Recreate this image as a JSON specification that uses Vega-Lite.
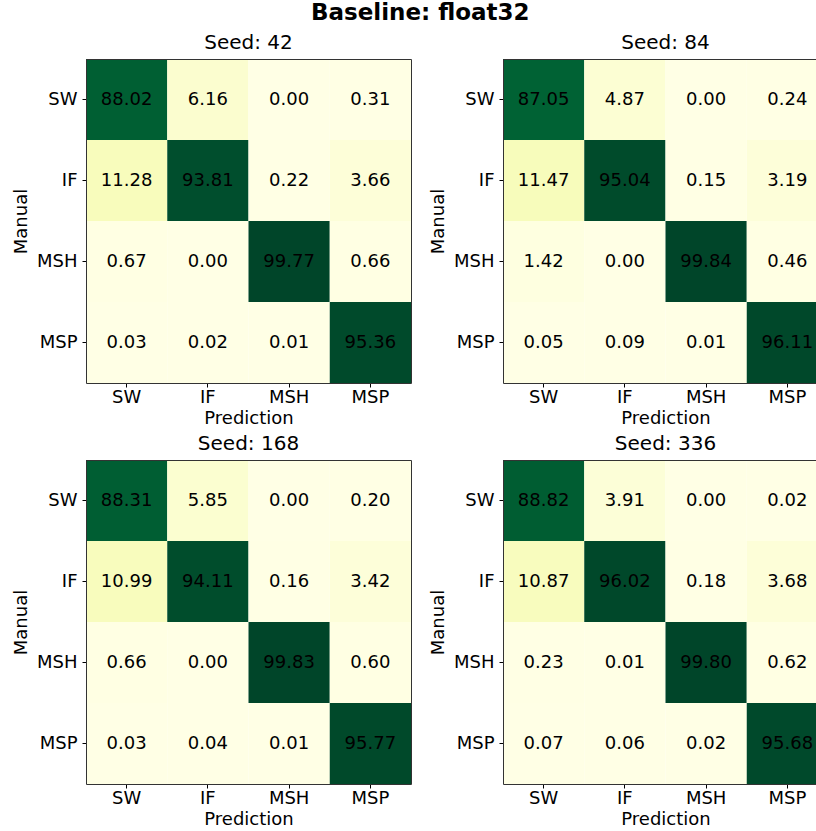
{
  "$schema": "https://vega.github.io/schema/vega-lite/v6.json",
  "padding": {"left": 12, "top": 2, "right": 0, "bottom": 0},
  "title": {"text": "Baseline: float32", "fontSize": 23, "fontWeight": "bold", "font": "DejaVu Sans", "color": "black", "anchor": "middle", "offset": 8},
  "config": {
    "font": "DejaVu Sans",
    "view": {"stroke": null},
    "title": {"fontSize": 20, "fontWeight": "normal", "font": "DejaVu Sans", "color": "black", "offset": 6},
    "axis": {"labelFontSize": 18, "titleFontSize": 18, "labelFont": "DejaVu Sans", "titleFont": "DejaVu Sans", "labelColor": "black", "titleColor": "black", "titleFontWeight": "normal", "domain": true, "domainColor": "#333333", "domainWidth": 1, "grid": false, "tickColor": "black", "tickSize": 4, "labelAngle": 0},
    "axisY": {"titlePadding": 6, "labelPadding": 5},
    "axisX": {"titlePadding": 3, "labelPadding": 1}
  },
  "data": {"values": [
    {"seed": 42, "manual": "SW", "pred": "SW", "value": 88.02},
    {"seed": 42, "manual": "SW", "pred": "IF", "value": 6.16},
    {"seed": 42, "manual": "SW", "pred": "MSH", "value": 0.00},
    {"seed": 42, "manual": "SW", "pred": "MSP", "value": 0.31},
    {"seed": 42, "manual": "IF", "pred": "SW", "value": 11.28},
    {"seed": 42, "manual": "IF", "pred": "IF", "value": 93.81},
    {"seed": 42, "manual": "IF", "pred": "MSH", "value": 0.22},
    {"seed": 42, "manual": "IF", "pred": "MSP", "value": 3.66},
    {"seed": 42, "manual": "MSH", "pred": "SW", "value": 0.67},
    {"seed": 42, "manual": "MSH", "pred": "IF", "value": 0.00},
    {"seed": 42, "manual": "MSH", "pred": "MSH", "value": 99.77},
    {"seed": 42, "manual": "MSH", "pred": "MSP", "value": 0.66},
    {"seed": 42, "manual": "MSP", "pred": "SW", "value": 0.03},
    {"seed": 42, "manual": "MSP", "pred": "IF", "value": 0.02},
    {"seed": 42, "manual": "MSP", "pred": "MSH", "value": 0.01},
    {"seed": 42, "manual": "MSP", "pred": "MSP", "value": 95.36},
    {"seed": 84, "manual": "SW", "pred": "SW", "value": 87.05},
    {"seed": 84, "manual": "SW", "pred": "IF", "value": 4.87},
    {"seed": 84, "manual": "SW", "pred": "MSH", "value": 0.00},
    {"seed": 84, "manual": "SW", "pred": "MSP", "value": 0.24},
    {"seed": 84, "manual": "IF", "pred": "SW", "value": 11.47},
    {"seed": 84, "manual": "IF", "pred": "IF", "value": 95.04},
    {"seed": 84, "manual": "IF", "pred": "MSH", "value": 0.15},
    {"seed": 84, "manual": "IF", "pred": "MSP", "value": 3.19},
    {"seed": 84, "manual": "MSH", "pred": "SW", "value": 1.42},
    {"seed": 84, "manual": "MSH", "pred": "IF", "value": 0.00},
    {"seed": 84, "manual": "MSH", "pred": "MSH", "value": 99.84},
    {"seed": 84, "manual": "MSH", "pred": "MSP", "value": 0.46},
    {"seed": 84, "manual": "MSP", "pred": "SW", "value": 0.05},
    {"seed": 84, "manual": "MSP", "pred": "IF", "value": 0.09},
    {"seed": 84, "manual": "MSP", "pred": "MSH", "value": 0.01},
    {"seed": 84, "manual": "MSP", "pred": "MSP", "value": 96.11},
    {"seed": 168, "manual": "SW", "pred": "SW", "value": 88.31},
    {"seed": 168, "manual": "SW", "pred": "IF", "value": 5.85},
    {"seed": 168, "manual": "SW", "pred": "MSH", "value": 0.00},
    {"seed": 168, "manual": "SW", "pred": "MSP", "value": 0.20},
    {"seed": 168, "manual": "IF", "pred": "SW", "value": 10.99},
    {"seed": 168, "manual": "IF", "pred": "IF", "value": 94.11},
    {"seed": 168, "manual": "IF", "pred": "MSH", "value": 0.16},
    {"seed": 168, "manual": "IF", "pred": "MSP", "value": 3.42},
    {"seed": 168, "manual": "MSH", "pred": "SW", "value": 0.66},
    {"seed": 168, "manual": "MSH", "pred": "IF", "value": 0.00},
    {"seed": 168, "manual": "MSH", "pred": "MSH", "value": 99.83},
    {"seed": 168, "manual": "MSH", "pred": "MSP", "value": 0.60},
    {"seed": 168, "manual": "MSP", "pred": "SW", "value": 0.03},
    {"seed": 168, "manual": "MSP", "pred": "IF", "value": 0.04},
    {"seed": 168, "manual": "MSP", "pred": "MSH", "value": 0.01},
    {"seed": 168, "manual": "MSP", "pred": "MSP", "value": 95.77},
    {"seed": 336, "manual": "SW", "pred": "SW", "value": 88.82},
    {"seed": 336, "manual": "SW", "pred": "IF", "value": 3.91},
    {"seed": 336, "manual": "SW", "pred": "MSH", "value": 0.00},
    {"seed": 336, "manual": "SW", "pred": "MSP", "value": 0.02},
    {"seed": 336, "manual": "IF", "pred": "SW", "value": 10.87},
    {"seed": 336, "manual": "IF", "pred": "IF", "value": 96.02},
    {"seed": 336, "manual": "IF", "pred": "MSH", "value": 0.18},
    {"seed": 336, "manual": "IF", "pred": "MSP", "value": 3.68},
    {"seed": 336, "manual": "MSH", "pred": "SW", "value": 0.23},
    {"seed": 336, "manual": "MSH", "pred": "IF", "value": 0.01},
    {"seed": 336, "manual": "MSH", "pred": "MSH", "value": 99.80},
    {"seed": 336, "manual": "MSH", "pred": "MSP", "value": 0.62},
    {"seed": 336, "manual": "MSP", "pred": "SW", "value": 0.07},
    {"seed": 336, "manual": "MSP", "pred": "IF", "value": 0.06},
    {"seed": 336, "manual": "MSP", "pred": "MSH", "value": 0.02},
    {"seed": 336, "manual": "MSP", "pred": "MSP", "value": 95.68}
  ]},
  "columns": 2,
  "bounds": "flush",
  "spacing": {"row": 77, "column": 92},
  "concat": [
    {
      "title": "Seed: 42",
      "width": 325, "height": 324,
      "transform": [{"filter": "datum.seed == 42"}],
      "layer": [
        {"mark": {"type": "rect"}, "encoding": {
          "x": {"field": "pred", "type": "nominal", "sort": ["SW", "IF", "MSH", "MSP"], "axis": {"title": "Prediction", "zindex": 1}, "scale": {"paddingInner": 0, "paddingOuter": 0}},
          "y": {"field": "manual", "type": "nominal", "sort": ["SW", "IF", "MSH", "MSP"], "axis": {"title": "Manual", "zindex": 1}, "scale": {"paddingInner": 0, "paddingOuter": 0}},
          "color": {"field": "value", "type": "quantitative", "legend": null, "scale": {"domain": [0, 12.125, 24.25, 36.375, 48.5, 60.625, 72.75, 84.875, 97], "range": ["#ffffe5", "#f7fcb9", "#d9f0a3", "#addd8e", "#78c679", "#41ab5d", "#238443", "#006837", "#004529"], "clamp": true, "interpolate": "rgb"}}}},
        {"mark": {"type": "text", "fontSize": 18, "font": "DejaVu Sans", "color": "black", "align": "center", "baseline": "middle"}, "encoding": {
          "x": {"field": "pred", "type": "nominal", "sort": ["SW", "IF", "MSH", "MSP"], "axis": {"orient": "top", "labels": false, "ticks": false, "title": null, "zindex": 1}},
          "y": {"field": "manual", "type": "nominal", "sort": ["SW", "IF", "MSH", "MSP"], "axis": {"orient": "right", "labels": false, "ticks": false, "title": null, "zindex": 1}},
          "text": {"field": "value", "type": "quantitative", "format": ".2f"}}}
      ],
      "resolve": {"axis": {"x": "independent", "y": "independent"}}
    },
    {
      "title": "Seed: 84",
      "width": 325, "height": 324,
      "transform": [{"filter": "datum.seed == 84"}],
      "layer": [
        {"mark": {"type": "rect"}, "encoding": {
          "x": {"field": "pred", "type": "nominal", "sort": ["SW", "IF", "MSH", "MSP"], "axis": {"title": "Prediction", "zindex": 1}, "scale": {"paddingInner": 0, "paddingOuter": 0}},
          "y": {"field": "manual", "type": "nominal", "sort": ["SW", "IF", "MSH", "MSP"], "axis": {"title": "Manual", "zindex": 1}, "scale": {"paddingInner": 0, "paddingOuter": 0}},
          "color": {"field": "value", "type": "quantitative", "legend": null, "scale": {"domain": [0, 12.125, 24.25, 36.375, 48.5, 60.625, 72.75, 84.875, 97], "range": ["#ffffe5", "#f7fcb9", "#d9f0a3", "#addd8e", "#78c679", "#41ab5d", "#238443", "#006837", "#004529"], "clamp": true, "interpolate": "rgb"}}}},
        {"mark": {"type": "text", "fontSize": 18, "font": "DejaVu Sans", "color": "black", "align": "center", "baseline": "middle"}, "encoding": {
          "x": {"field": "pred", "type": "nominal", "sort": ["SW", "IF", "MSH", "MSP"], "axis": {"orient": "top", "labels": false, "ticks": false, "title": null, "zindex": 1}},
          "y": {"field": "manual", "type": "nominal", "sort": ["SW", "IF", "MSH", "MSP"], "axis": {"orient": "right", "labels": false, "ticks": false, "title": null, "zindex": 1}},
          "text": {"field": "value", "type": "quantitative", "format": ".2f"}}}
      ],
      "resolve": {"axis": {"x": "independent", "y": "independent"}}
    },
    {
      "title": "Seed: 168",
      "width": 325, "height": 324,
      "transform": [{"filter": "datum.seed == 168"}],
      "layer": [
        {"mark": {"type": "rect"}, "encoding": {
          "x": {"field": "pred", "type": "nominal", "sort": ["SW", "IF", "MSH", "MSP"], "axis": {"title": "Prediction", "zindex": 1}, "scale": {"paddingInner": 0, "paddingOuter": 0}},
          "y": {"field": "manual", "type": "nominal", "sort": ["SW", "IF", "MSH", "MSP"], "axis": {"title": "Manual", "zindex": 1}, "scale": {"paddingInner": 0, "paddingOuter": 0}},
          "color": {"field": "value", "type": "quantitative", "legend": null, "scale": {"domain": [0, 12.125, 24.25, 36.375, 48.5, 60.625, 72.75, 84.875, 97], "range": ["#ffffe5", "#f7fcb9", "#d9f0a3", "#addd8e", "#78c679", "#41ab5d", "#238443", "#006837", "#004529"], "clamp": true, "interpolate": "rgb"}}}},
        {"mark": {"type": "text", "fontSize": 18, "font": "DejaVu Sans", "color": "black", "align": "center", "baseline": "middle"}, "encoding": {
          "x": {"field": "pred", "type": "nominal", "sort": ["SW", "IF", "MSH", "MSP"], "axis": {"orient": "top", "labels": false, "ticks": false, "title": null, "zindex": 1}},
          "y": {"field": "manual", "type": "nominal", "sort": ["SW", "IF", "MSH", "MSP"], "axis": {"orient": "right", "labels": false, "ticks": false, "title": null, "zindex": 1}},
          "text": {"field": "value", "type": "quantitative", "format": ".2f"}}}
      ],
      "resolve": {"axis": {"x": "independent", "y": "independent"}}
    },
    {
      "title": "Seed: 336",
      "width": 325, "height": 324,
      "transform": [{"filter": "datum.seed == 336"}],
      "layer": [
        {"mark": {"type": "rect"}, "encoding": {
          "x": {"field": "pred", "type": "nominal", "sort": ["SW", "IF", "MSH", "MSP"], "axis": {"title": "Prediction", "zindex": 1}, "scale": {"paddingInner": 0, "paddingOuter": 0}},
          "y": {"field": "manual", "type": "nominal", "sort": ["SW", "IF", "MSH", "MSP"], "axis": {"title": "Manual", "zindex": 1}, "scale": {"paddingInner": 0, "paddingOuter": 0}},
          "color": {"field": "value", "type": "quantitative", "legend": null, "scale": {"domain": [0, 12.125, 24.25, 36.375, 48.5, 60.625, 72.75, 84.875, 97], "range": ["#ffffe5", "#f7fcb9", "#d9f0a3", "#addd8e", "#78c679", "#41ab5d", "#238443", "#006837", "#004529"], "clamp": true, "interpolate": "rgb"}}}},
        {"mark": {"type": "text", "fontSize": 18, "font": "DejaVu Sans", "color": "black", "align": "center", "baseline": "middle"}, "encoding": {
          "x": {"field": "pred", "type": "nominal", "sort": ["SW", "IF", "MSH", "MSP"], "axis": {"orient": "top", "labels": false, "ticks": false, "title": null, "zindex": 1}},
          "y": {"field": "manual", "type": "nominal", "sort": ["SW", "IF", "MSH", "MSP"], "axis": {"orient": "right", "labels": false, "ticks": false, "title": null, "zindex": 1}},
          "text": {"field": "value", "type": "quantitative", "format": ".2f"}}}
      ],
      "resolve": {"axis": {"x": "independent", "y": "independent"}}
    }
  ]
}
